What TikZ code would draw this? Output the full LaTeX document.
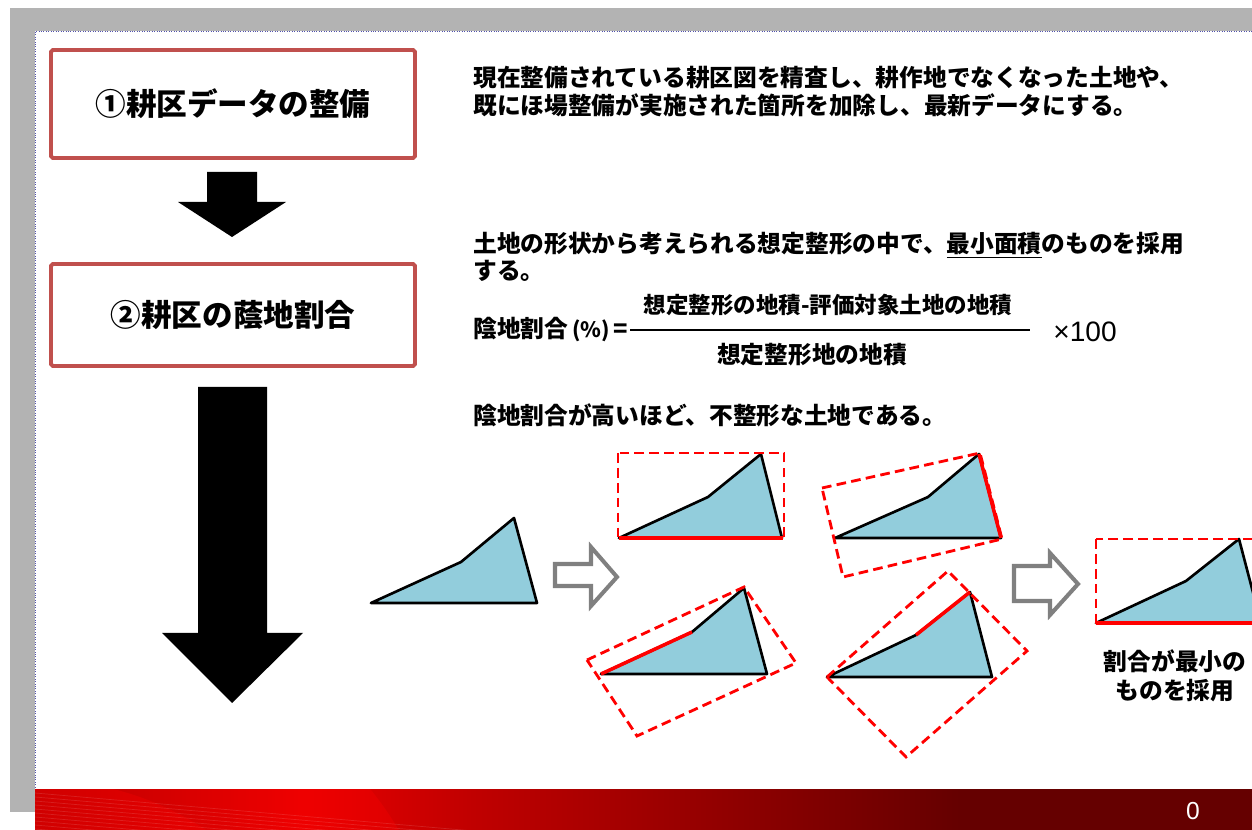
\documentclass[tikz,border=0pt]{standalone}
\usepackage{fontspec}
\setmainfont{Noto Sans CJK JP}
\newfontfamily\arialfont{Liberation Sans}
\usepackage{tikz}
\usetikzlibrary{positioning}
\definecolor{wakuiro}{HTML}{C0504D}
\definecolor{tochiiro}{HTML}{92CDDC}
\definecolor{haiiro}{HTML}{B3B3B3}
\definecolor{yajiiro}{HTML}{808080}
\definecolor{akaL}{HTML}{A00000}
\definecolor{akaM}{HTML}{E80000}
\definecolor{akaN}{HTML}{C00000}
\definecolor{akaR}{HTML}{650000}
\pgfdeclarehorizontalshading{obi}{100bp}{color(0bp)=(akaL); color(25bp)=(akaL); color(36bp)=(akaM); color(43bp)=(akaN); color(63bp)=(akaR); color(100bp)=(akaR)}

\begin{document}
\begin{tikzpicture}[x=0.02cm,y=-0.02cm,
    kukaku/.style={draw=wakuiro,line width=2.2pt,rounded corners=1pt,fill=white,minimum width=7.28cm,font=\fontsize{17.4}{20}\selectfont\bfseries},
    bun/.style={anchor=west,inner sep=0pt,align=left,font=\fontsize{13.5}{16.4}\selectfont\bfseries},
    tochi/.style={fill=tochiiro,draw=black,line width=1.5pt,line join=round},
    kaku/.style={draw=red,line width=1.6pt,dash pattern=on 5.5pt off 3pt},
    hen/.style={draw=red,line width=2pt},
    shiro/.style={draw=yajiiro,line width=2.3pt,fill=white}]
    \useasboundingbox (0,0) rectangle (1252,830);
    \fill[haiiro] (10,8) rectangle (1252,812);%背景
    \fill[white] (35,31) rectangle (1252,790);
    \draw[densely dotted,color=blue!35!gray,thin] (35,790)--(35,31)--(1252,31);

    %下の帯
    \shade[shading=obi] (35,790) rectangle (1252,830);
    \begin{scope}
        \clip (35,790) rectangle (1252,830);
        \fill[red,opacity=.3] (110,1000) circle [radius=335];
        \fill[red,opacity=.3] (40,1080) circle [radius=300];
        \foreach \i in {0,...,9}
            \draw[white,opacity=.12,thin] (35,793+\i*4)--(520,835+\i*4);
    \end{scope}
    \node[text=white,font=\arialfont\fontsize{14}{16}\selectfont] (pagenum) at (1193,811) {0};

    %左の流れ
    \node[kukaku,minimum height=2.16cm] (kukaku1) at (233,104) {①耕区データの整備};
    \node[kukaku,minimum height=2.04cm] (kukaku2) at (233,315) {②耕区の蔭地割合};
    \fill (207,172)--(257,172)--(257,202)--(286,202)--(232,237)--(178,202)--(207,202)--cycle;
    \fill (198,387)--(267,387)--(267,633)--(303,633)--(232,703)--(162,633)--(198,633)--cycle;

    %説明
    \node[bun] (setsumei1) at (473,91.5) {現在整備されている耕区図を精査し、耕作地でなくなった土地や、\\既にほ場整備が実施された箇所を加除し、最新データにする。};
    \node[bun,font=\fontsize{13.5}{15.3}\selectfont\bfseries] (setsumei2) at (473,256.5) {土地の形状から考えられる想定整形の中で、\underline{最小面積}のものを採用\\する。};
    \node[bun] (inchi) at (473,330) {陰地割合\,{\fontsize{12}{14}\selectfont(\%)}\,=};
    \coordinate (senL) at (630,330);
    \coordinate (senR) at (1030,330);
    \draw[line width=1.7pt] (senL)--(senR);%分数の線
    \node[font=\fontsize{12.8}{15}\selectfont\bfseries,inner sep=0pt] (bunshi) at (828,305) {想定整形の地積-評価対象土地の地積};
    \node[font=\fontsize{13.5}{15}\selectfont\bfseries,inner sep=0pt] (bunbo) at (812,355) {想定整形地の地積};
    \node[anchor=west,inner sep=0pt,font=\arialfont\fontsize{16}{18}\selectfont] (hyaku) at (1053,332) {×100};
    \node[bun] (kekka) at (473,415) {陰地割合が高いほど、不整形な土地である。};

    %評価対象の土地
    \filldraw[tochi] (371,603)--(461,562)--(514,518)--(537,603)--cycle;
    \draw[shiro] (555,564)--(591,564)--(591,547)--(617,577)--(591,606)--(591,586)--(555,586)--cycle;

    %想定整形
    \filldraw[tochi] (619,538)--(708,497)--(761,454)--(782,538)--cycle;
    \draw[kaku] (618,453) rectangle (784,539);
    \draw[hen] (619,538)--(783,538);

    \filldraw[tochi] (835,538)--(928,497)--(979,454)--(1001,538)--cycle;
    \draw[kaku] (822,488)--(980,453)--(1002,539)--(843,577)--cycle;
    \draw[hen] (979,454)--(1001,538);

    \filldraw[tochi] (601,674)--(692,632)--(744,588)--(767,674)--cycle;
    \draw[kaku] (587,660)--(744,587)--(796,663)--(637,736)--cycle;
    \draw[hen] (601,674)--(692,632);

    \filldraw[tochi] (827,677)--(916,635)--(970,592)--(992,677)--cycle;
    \draw[kaku] (827,677)--(948,571)--(1027,651)--(906,757)--cycle;
    \draw[hen] (916,635)--(970,592);

    \draw[shiro] (1014,566)--(1050,566)--(1050,553)--(1078,584)--(1050,615)--(1050,601)--(1014,601)--cycle;

    %採用
    \filldraw[tochi] (1096,623)--(1186,581)--(1239,539)--(1261,623)--cycle;
    \draw[kaku] (1096,539) rectangle (1262,623);
    \draw[hen] (1096,623)--(1262,623);
    \node[bun,anchor=center,align=center,font=\fontsize{13.5}{16.4}\selectfont\bfseries] (saiyou) at (1175,675.5) {割合が最小の\\ものを採用};
\end{tikzpicture}
\end{document}
